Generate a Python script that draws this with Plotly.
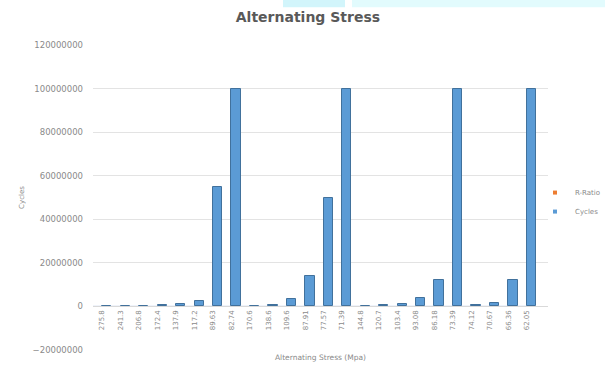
import plotly.graph_objects as go

# Alternating stress levels (MPa), in test order
stress_labels = ["275.8", "241.3", "206.8", "172.4", "137.9", "117.2", "89.63", "82.74",
                 "170.6", "138.6", "109.6", "87.91", "77.57", "71.39",
                 "144.8", "120.7", "103.4", "93.08", "86.18", "73.39",
                 "74.12", "70.67", "66.36", "62.05"]

# Stress ratio for each test
r_ratio = [-1] * len(stress_labels)

# Cycles to failure (run-outs capped at 1e8)
cycles = [200000, 300000, 400000, 500000, 1000000, 2500000, 55000000, 100000000,
          300000, 500000, 3500000, 14000000, 50000000, 100000000,
          300000, 500000, 1200000, 4000000, 12000000, 100000000,
          500000, 1500000, 12000000, 100000000]

y_ticks = [-20000000, 0, 20000000, 40000000, 60000000, 80000000, 100000000, 120000000]

grey = "#8a8a8a"
orange = "#ed7d31"
blue = "#5b9bd5"
font_family = "'DejaVu Sans', sans-serif"

fig = go.Figure()
fig.add_trace(go.Bar(name="R-Ratio", x=stress_labels, y=r_ratio,
                     marker=dict(color=orange), showlegend=False))
fig.add_trace(go.Bar(name="Cycles", x=stress_labels, y=cycles,
                     marker=dict(color=blue, line=dict(color="#41719c", width=1)),
                     showlegend=False))
# small square legend keys
for name, col in (("R-Ratio", orange), ("Cycles", blue)):
    fig.add_trace(go.Scatter(name=name, x=[None], y=[None], mode="markers",
                             marker=dict(symbol="square", size=4, color=col)))

y_min, y_max = -20000000, 120000000
zero_pos = (0 - y_min) / (y_max - y_min)

L, R = 93, 57
plot_w = 605 - L - R


def px_to_paper(px):
    return (px - L) / plot_w


fig.update_layout(
    width=605, height=366,
    margin=dict(l=L, r=R, t=45, b=16, autoexpand=False),
    paper_bgcolor="white", plot_bgcolor="white",
    barmode="group", bargap=0.0, bargroupgap=0,
    font=dict(family=font_family, color=grey, size=7),
    title=dict(text="<b>Alternating Stress</b>", x=0.509, xref="container",
               y=0.953, yref="container", xanchor="center", yanchor="middle",
               font=dict(size=14, color="#595959", family=font_family)),
    showlegend=True,
    legend=dict(x=px_to_paper(535), y=0.485, xanchor="left", yanchor="middle",
                font=dict(size=7, color=grey), itemwidth=30, tracegroupgap=2,
                bgcolor="rgba(0,0,0,0)"),
    xaxis=dict(
        type="category", anchor="free", position=zero_pos, automargin=False,
        range=[-0.5, 24.15],
        showline=True, linecolor="#d9d9d9", linewidth=1,
        ticks="", tickangle=-90, tickfont=dict(size=7, color=grey),
        showgrid=False,
        title=dict(text="Alternating Stress (Mpa)", font=dict(size=7.5, color=grey), standoff=25),
    ),
    yaxis=dict(
        range=[y_min, y_max], tickvals=y_ticks, tickformat="d", automargin=False,
        showgrid=True, gridcolor="#e3e3e3", gridwidth=1,
        zeroline=False, showline=False, ticks="", ticklabelstandoff=9,
        tickfont=dict(size=8.5, color=grey),
        title=dict(text="Cycles", font=dict(size=7, color=grey), standoff=7),
    ),
    shapes=[
        dict(type="rect", xref="paper", yref="paper",
             x0=px_to_paper(283), x1=px_to_paper(345), y0=1.124, y1=1.2,
             fillcolor="#d2f5fb", line=dict(width=0), layer="above"),
        dict(type="rect", xref="paper", yref="paper",
             x0=px_to_paper(352), x1=px_to_paper(620), y0=1.124, y1=1.2,
             fillcolor="#e2fbfd", line=dict(width=0), layer="above"),
    ],
)

fig.write_html("out.html")
